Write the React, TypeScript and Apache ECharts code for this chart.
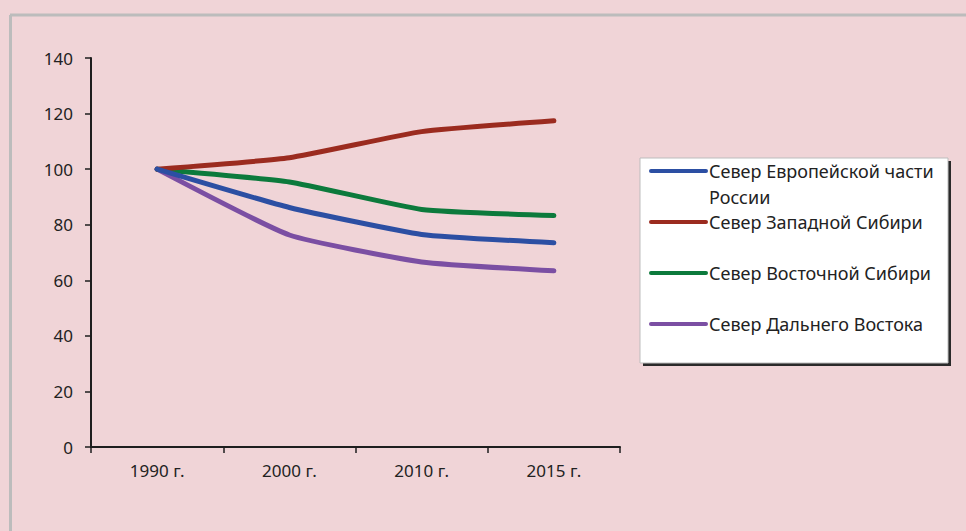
import React, { useEffect, useRef } from "react";
import * as echarts from "echarts";

const categories = ["1990 г.", "2000 г.", "2010 г.", "2015 г."];
const seriesNames = [
  "Север Европейской части России",
  "Север Западной Сибири",
  "Север Восточной Сибири",
  "Север Дальнего Востока",
];
const legendLabels = [
  "Север Европейской части\nРоссии",
  "Север Западной Сибири",
  "Север Восточной Сибири",
  "Север Дальнего Востока",
];
const europeanNorth = [100, 86.2, 76.5, 73.5];
const westSiberiaNorth = [100, 104.1, 113.5, 117.4];
const eastSiberiaNorth = [100, 95.4, 85.5, 83.3];
const farEastNorth = [100, 76.3, 66.6, 63.4];
const yTicks = [0, 20, 40, 60, 80, 100, 120, 140];
const seriesColors = ["#2c4fa3", "#9b2b1f", "#0c7a3c", "#7b4fa3"];

const FONT = "'Noto Sans', sans-serif";

export default function App() {
  const ref = useRef<HTMLDivElement>(null);
  useEffect(() => {
    if (!ref.current) return;
    const chart = echarts.init(ref.current, undefined, { renderer: "svg" });
    const data = [europeanNorth, westSiberiaNorth, eastSiberiaNorth, farEastNorth];

    const legendX = 640;
    const legendY = 158;
    const legendW = 308;
    const legendH = 205;
    const rowYs = [171, 222, 273, 324];

    const legendGraphics: any[] = [
      {
        type: "rect",
        shape: { x: legendX + 3, y: legendY + 3, width: legendW, height: legendH },
        style: { fill: "#2a2a2a" },
        z: 10,
      },
      {
        type: "rect",
        shape: { x: legendX, y: legendY, width: legendW, height: legendH },
        style: { fill: "#ffffff", stroke: "#bdbdbd", lineWidth: 1 },
        z: 11,
      },
    ];
    legendLabels.forEach((label, i) => {
      legendGraphics.push({
        type: "line",
        shape: { x1: 651, y1: rowYs[i], x2: 706, y2: rowYs[i] },
        style: { stroke: seriesColors[i], lineWidth: 4, lineCap: "round" },
        z: 12,
      });
      legendGraphics.push({
        type: "text",
        x: 709,
        y: rowYs[i],
        style: {
          text: label,
          font: `18px ${FONT}`,
          fill: "#222222",
          textVerticalAlign: "top",
          lineHeight: 26,
        },
        // shift so that first line is centred on the legend line
        originY: 0,
        z: 12,
      });
    });
    // adjust text y: top aligned, move up by half line
    legendGraphics.forEach((g) => {
      if (g.type === "text") g.y = g.y - 13;
    });

    const option: any = {
      animation: false,
      backgroundColor: "#f0d4d7",
      textStyle: { fontFamily: FONT },
      grid: { left: 91, top: 58, right: 346, bottom: 84, containLabel: false },
      xAxis: {
        type: "category",
        data: categories,
        boundaryGap: true,
        axisLine: { show: true, lineStyle: { color: "#1e1e1e", width: 2 } },
        axisTick: { show: true, length: 6, lineStyle: { color: "#1e1e1e", width: 1.5 } },
        axisLabel: { color: "#222222", fontSize: 17, fontFamily: FONT, margin: 15 },
        splitLine: { show: false },
      },
      yAxis: {
        type: "value",
        min: yTicks[0],
        max: yTicks[yTicks.length - 1],
        interval: 20,
        axisLine: { show: true, lineStyle: { color: "#1e1e1e", width: 2 } },
        axisTick: { show: true, length: 6, lineStyle: { color: "#1e1e1e", width: 1.5 } },
        axisLabel: { color: "#222222", fontSize: 17, fontFamily: FONT, margin: 18 },
        splitLine: { show: false },
      },
      series: seriesNames.map((name, i) => ({
        name,
        type: "line",
        data: data[i],
        smooth: 0.15,
        showSymbol: false,
        symbol: "none",
        lineStyle: { color: seriesColors[i], width: 5, cap: "round", join: "round" },
        itemStyle: { color: seriesColors[i] },
        z: 3 + (3 - i),
      })),
      graphic: [
        {
          type: "line",
          shape: { x1: 10, y1: 15, x2: 966, y2: 15 },
          style: { stroke: "#bcbcbc", lineWidth: 3 },
          z: 1,
        },
        {
          type: "line",
          shape: { x1: 10.5, y1: 15, x2: 10.5, y2: 531 },
          style: { stroke: "#bcbcbc", lineWidth: 3 },
          z: 1,
        },
        ...legendGraphics,
      ],
    };
    chart.setOption(option);
    return () => chart.dispose();
  }, []);
  return (
    <div
      ref={ref}
      style={{ position: "fixed", left: 0, top: 0, width: 966, height: 531, background: "#f0d4d7" }}
    />
  );
}
